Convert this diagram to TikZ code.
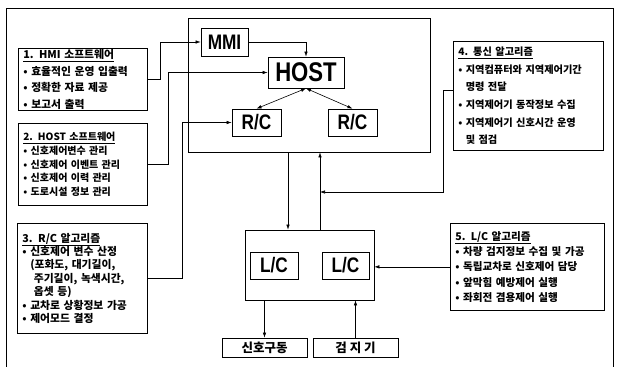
\documentclass[tikz,border=0pt]{standalone}
\usepackage{fontspec}
\setmainfont{Liberation Sans}
\newfontfamily\krfont{Noto Sans CJK KR}
\newfontfamily\unitfont{Liberation Sans}[FakeStretch=0.82]
\usetikzlibrary{positioning,arrows.meta,calc}
\newcommand{\skipbullet}{\phantom{• }}

\begin{document}
\begin{tikzpicture}[x=1pt, y=-1pt,
    memo/.style={draw, line width=0.7pt, anchor=north west, align=left, inner xsep=5pt, inner ysep=1pt},
    unit/.style={draw, line width=0.7pt, inner sep=0pt, font=\unitfont\bfseries},
    frame/.style={draw, line width=0.7pt, inner sep=0pt},
    arrow/.style={-{Latex[length=5pt,width=3.5pt]}, line width=0.6pt},
    twoway/.style={{Latex[length=5pt,width=3.5pt]}-{Latex[length=5pt,width=3.5pt]}, line width=0.6pt},
]
\useasboundingbox (0,0) rectangle (619,367);
\draw[line width=0.7pt] (6,367) -- (6,8) -- (613,8) -- (613,367);

% left column
\node[memo, text width=119pt, minimum height=62pt, font=\krfont\bfseries\fontsize{10.8}{16.5}\selectfont] (hmi) at (18,48)
  {\underline{1. HMI 소프트웨어}\\• 효율적인 운영 입출력\\• 정확한 자료 제공\\• 보고서 출력};
\node[memo, text width=119pt, minimum height=82pt, font=\krfont\bfseries\fontsize{10}{13.6}\selectfont] (hostsw) at (18,123)
  {\underline{2. HOST 소프트웨어}\\• 신호제어변수 관리\\• 신호제어 이벤트 관리\\• 신호제어 이력 관리\\• 도로시설 정보 관리};
\node[memo, text width=120pt, minimum height=110pt, font=\krfont\bfseries\fontsize{10.8}{13.4}\selectfont] (rcalg) at (17,223)
  {\underline{3. R/C 알고리즘}\\• 신호제어 변수 산정\\\skipbullet(포화도, 대기길이,\\\skipbullet\ 주기길이, 녹색시간,\\\skipbullet\ 옵셋 등)\\• 교차로 상황정보 가공\\• 제어모드 결정};

% centre
\node[frame, minimum width=242pt, minimum height=134pt] (cen) at (309,85) {};
\node[unit, minimum width=47pt, minimum height=28pt, font=\unitfont\bfseries\fontsize{21}{21}\selectfont] (mmi) at (224.5,42) {MMI};
\node[unit, minimum width=76pt, minimum height=31pt, font=\unitfont\bfseries\fontsize{27}{27}\selectfont] (host) at (306,72.5) {HOST};
\node[unit, minimum width=49pt, minimum height=27pt, font=\unitfont\bfseries\fontsize{21}{21}\selectfont] (rc1) at (256.5,122.5) {R/C};
\node[unit, minimum width=49pt, minimum height=27pt, font=\unitfont\bfseries\fontsize{21}{21}\selectfont] (rc2) at (352.5,122.5) {R/C};

\node[frame, minimum width=129pt, minimum height=70pt] (lcg) at (309.5,265) {};
\node[unit, minimum width=48pt, minimum height=27pt, font=\unitfont\bfseries\fontsize{21}{21}\selectfont] (lc1) at (274,265.5) {L/C};
\node[unit, minimum width=47pt, minimum height=27pt, font=\unitfont\bfseries\fontsize{21}{21}\selectfont] (lc2) at (345.5,265.5) {L/C};

\node[unit, minimum width=85pt, minimum height=19pt, font=\krfont\bfseries\fontsize{12.5}{12.5}\selectfont] (sig) at (264.5,347.5) {신호구동};
\node[unit, minimum width=85pt, minimum height=19pt, font=\krfont\bfseries\fontsize{12.5}{12.5}\selectfont] (det) at (355.5,347.5) {검 지 기};

% right column
\node[memo, text width=140pt, minimum height=109pt, font=\krfont\bfseries\fontsize{10.2}{17.6}\selectfont] (comm) at (453,41)
  {\underline{4. 통신 알고리즘}\\• 지역컴퓨터와 지역제어기간\\\skipbullet 명령 전달\\• 지역제어기 동작정보 수집\\• 지역제어기 신호시간 운영\\\skipbullet 및 점검};
\node[memo, text width=144pt, minimum height=87pt, font=\krfont\bfseries\fontsize{10.6}{15.3}\selectfont] (lcalg) at (450,223)
  {\underline{5. L/C 알고리즘}\\• 차량 검지정보 수집 및 가공\\• 독립교차로 신호제어 담당\\• 앞막힘 예방제어 실행\\• 좌회전 겸용제어 실행};

\coordinate (tee) at (320,192);

\draw[arrow] (hmi.east) -- ([xshift=13pt]hmi.east) |- (mmi.west);
\draw[arrow] (hostsw.east) -- ([xshift=21pt]hostsw.east) |- (host.west);
\draw[arrow] (rcalg.east) -- ([xshift=35pt]rcalg.east) |- (rc1.west);
\draw[arrow] (mmi.east) -| (host.north);
\draw[twoway] (rc1.north) -- (host.south);
\draw[twoway] (rc2.north) -- (host.south);
\draw[arrow] ([xshift=-21pt]cen.south) -- ([xshift=-21pt]cen.south |- lcg.north);
\draw[arrow] ([xshift=10.5pt]lcg.north) -- ([xshift=10.5pt]lcg.north |- cen.south);
\draw[arrow] ([yshift=5.5pt]comm.west) -- ++(-10,0) |- (tee);
\draw[arrow] (lcalg.west) -- (lcalg.west -| lcg.east);
\draw[arrow] (sig.north |- lcg.south) -- (sig.north);
\draw[arrow] (det.north) -- (det.north |- lcg.south);
\end{tikzpicture}
\end{document}
